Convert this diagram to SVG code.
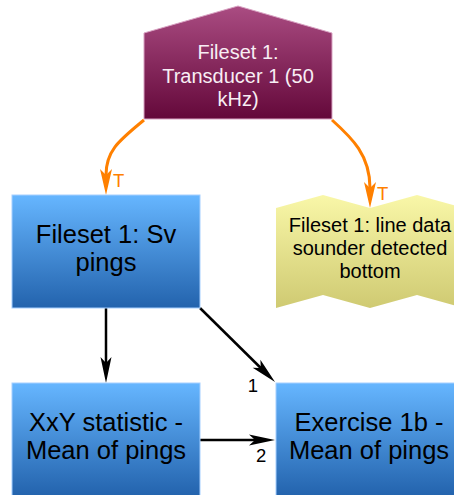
<svg xmlns="http://www.w3.org/2000/svg" width="454" height="495" viewBox="0 0 454 495">
<style>
.t{font-family:"Liberation Sans",Arial,sans-serif;text-anchor:middle}
.big{font-size:25.5px;fill:#000}
.mid{font-size:20px}
.lbl{font-family:"Liberation Sans",Arial,sans-serif;font-size:18.5px}
.blue{fill:url(#gBlue);stroke:#a6cfff;stroke-width:1}
.or{fill:none;stroke:#ff8000;stroke-width:3}
.bk{fill:none;stroke:#000;stroke-width:2.5}
</style>
<defs>
<linearGradient id="gTop" x1="0" y1="0" x2="0" y2="1">
<stop offset="0" stop-color="#aa4c82"/><stop offset="1" stop-color="#64083a"/>
</linearGradient>
<linearGradient id="gBlue" x1="0" y1="0" x2="0" y2="1">
<stop offset="0" stop-color="#66b6ff"/><stop offset="1" stop-color="#2363ad"/>
</linearGradient>
<linearGradient id="gYel" x1="0" y1="0" x2="0" y2="1">
<stop offset="0" stop-color="#f9f7a8"/><stop offset="1" stop-color="#cfca72"/>
</linearGradient>
<marker id="aO" markerUnits="userSpaceOnUse" markerWidth="30" markerHeight="14" viewBox="0 -7 28 14" refX="6" refY="0" orient="auto">
<path d="M0,-6 L26,0 L0,6 L6,0 Z" fill="#ff8000"/>
</marker>
<marker id="aB" markerUnits="userSpaceOnUse" markerWidth="30" markerHeight="14" viewBox="0 -7 28 14" refX="6" refY="0" orient="auto">
<path d="M0,-5.5 L26,0 L0,5.5 L6,0 Z" fill="#000"/>
</marker>
</defs>

<g id="connectors">
<path class="or" d="M144,120 C120,140 106,150 106,175" marker-end="url(#aO)"/>
<text class="lbl" x="113" y="187" fill="#ff8000">T</text>
<path class="or" d="M332,120 C352,138 370,155 370,188" marker-end="url(#aO)"/>
<text class="lbl" x="377" y="200" fill="#ff8000">T</text>
<path class="bk" d="M106,308 L106,363" marker-end="url(#aB)"/>
<path class="bk" d="M200,308 L260.8,368" marker-end="url(#aB)"/>
<text class="lbl" x="258" y="392" text-anchor="end" fill="#000">1</text>
<path class="bk" d="M200,440 L255,440" marker-end="url(#aB)"/>
<text class="lbl" x="256" y="462" fill="#000">2</text>
</g>

<g id="n-transducer">
<polygon points="144,119 144,33 238,6 332,33 332,119" fill="url(#gTop)" stroke="#d9a3c3" stroke-width="1"/>
<text class="t mid" fill="#f8eef4"><tspan x="238" y="59">Fileset 1:</tspan><tspan x="238" y="82.5">Transducer 1 (50</tspan><tspan x="238" y="105.8">kHz)</tspan></text>
</g>

<g id="n-sv">
<rect class="blue" x="12" y="195" width="188" height="113"/>
<text class="t big"><tspan x="106" y="243">Fileset 1: Sv</tspan><tspan x="106" y="271">pings</tspan></text>
</g>

<g id="n-line">
<polygon points="276,208 323,195 370,208 417,195 464,208 464,308 417,295 370,308 323,295 276,308" fill="url(#gYel)"/>
<text class="t mid" fill="#000"><tspan x="370" y="232">Fileset 1: line data</tspan><tspan x="370" y="255">sounder detected</tspan><tspan x="370" y="278">bottom</tspan></text>
</g>

<g id="n-xxy">
<rect class="blue" x="12" y="383" width="188" height="113"/>
<text class="t big"><tspan x="106" y="430.7">XxY statistic -</tspan><tspan x="106" y="459.3">Mean of pings</tspan></text>
</g>

<g id="n-ex1b">
<rect class="blue" x="276" y="383" width="188" height="113"/>
<text class="t big"><tspan x="369" y="430.7">Exercise 1b -</tspan><tspan x="369" y="459.3">Mean of pings</tspan></text>
</g>
</svg>
